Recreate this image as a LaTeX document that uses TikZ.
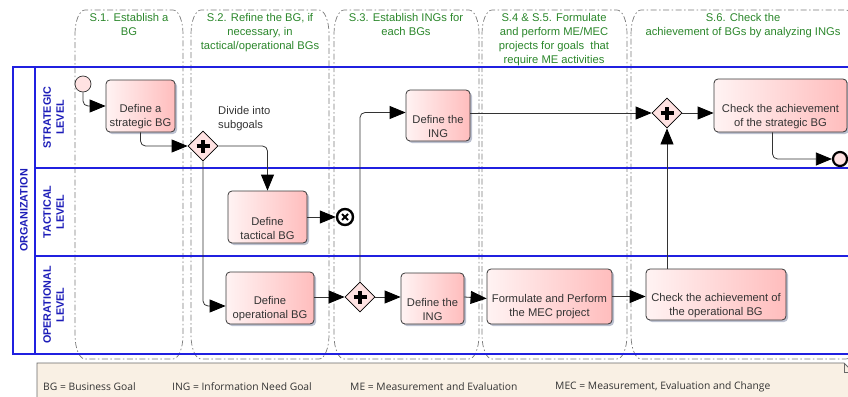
\documentclass[tikz,border=0pt]{standalone}
\usepackage{fontspec}
\setmainfont{Liberation Sans}
\newfontfamily\legendfont{Open Sans}
\usepackage{tikz}
\usetikzlibrary{arrows.meta,shapes.geometric,shadows}
\tikzset{every picture/.append style={font=\fontsize{11.2}{14}\selectfont}}
\definecolor{laneblue}{HTML}{2020E0}
\definecolor{lanetext}{HTML}{1C1CB8}
\definecolor{phasegreen}{HTML}{2A862A}
\definecolor{phasegray}{HTML}{7A7A7A}
\definecolor{taskleft}{HTML}{FFF3F3}
\definecolor{taskright}{HTML}{FFBDBD}
\definecolor{taskline}{HTML}{383838}
\definecolor{shadowgray}{HTML}{A0A6BC}
\definecolor{gatefill}{HTML}{FFE2E2}
\definecolor{legendfill}{HTML}{F9F0E4}
\definecolor{legendline}{HTML}{6A6A6A}
\tikzset{
  lane/.style={draw=laneblue,line width=1.1pt},
  lanelabel/.style={rotate=90,align=center,text=lanetext,inner sep=0pt,font=\fontsize{10.8}{13}\selectfont\bfseries},
  phase/.style={draw=phasegray,line width=0.7pt,dash pattern=on 6pt off 2.5pt on 1.5pt off 2.5pt},
  phasetitle/.style={text=phasegreen,align=center,anchor=north,inner sep=0pt},
  task/.style={draw=taskline,line width=0.8pt,rounded corners=4pt,left color=taskleft,right color=taskright,
    drop shadow={shadow xshift=2pt,shadow yshift=-2pt,fill=shadowgray,opacity=0.7},inner sep=0pt},
  tasktext/.style={align=center,text=black!80,inner sep=0pt,yshift=-11pt},
  gate/.style={diamond,draw=black,line width=0.8pt,fill=gatefill,minimum width=30pt,minimum height=30pt,inner sep=0pt},
  flow/.style={draw=black!80,line width=0.8pt,rounded corners=5pt,-{Triangle[length=16pt,width=13pt,color=black]}},
  legendtext/.style={anchor=west,inner sep=0pt,text=black!80,font=\legendfont\fontsize{10.3}{12}\selectfont},
}

\begin{document}
\begin{tikzpicture}[x=1pt,y=-1pt]
  \useasboundingbox (0,0) rectangle (848,396);
  \clip (0,0) rectangle (848,396);
  % phases
  \foreach \a/\b in {75/183,191/329,334/479,482/627,631/856} {
    \draw[phase] (\a,34) arc[start angle=180,end angle=270,x radius=10,y radius=24] -- (\b-10,10)
      arc[start angle=270,end angle=360,x radius=10,y radius=24] -- (\b,335)
      arc[start angle=0,end angle=90,x radius=10,y radius=24] -- (\a+10,359)
      arc[start angle=90,end angle=180,x radius=10,y radius=24] -- cycle;
  }
  \node[phasetitle] (t1) at (129,13) {S.1. Establish a\\BG};
  \node[phasetitle] (t2) at (260,13) {S.2. Refine the BG, if\\necessary, in\\tactical/operational BGs};
  \node[phasetitle] (t3) at (406,13) {S.3. Establish INGs for\\each BGs};
  \node[phasetitle] (t4) at (554,13) {S.4 \& S.5. Formulate\\and perform ME/MEC\\projects for goals\ \ that\\require ME activities};
  \node[phasetitle] (t6) at (743,13) {S.6. Check the\\achievement of BGs by analyzing INGs};
  % pool and lanes
  \draw[lane] (13,67) rectangle (870,354);
  \draw[lane] (35,67) -- (35,354);
  \draw[lane] (35,168) -- (870,168);
  \draw[lane] (35,256) -- (870,256);
  \node[lanelabel] (org) at (24,210.5) {ORGANIZATION};
  \node[lanelabel] (lstr) at (53.5,117.5) {STRATEGIC\\LEVEL};
  \node[lanelabel] (ltac) at (53.5,212) {TACTICAL\\LEVEL};
  \node[lanelabel] (lope) at (53.5,305) {OPERATIONAL\\LEVEL};
  % legend
  \draw[fill=legendfill,draw=legendline,line width=0.8pt] (37,363) -- (844,363) -- (853,372) -- (853,400) -- (37,400) -- cycle;
  \draw[legendline,line width=0.8pt] (844,363) -- (844,372) -- (853,372);
  \node[legendtext] (lg1) at (43,387) {BG = Business Goal};
  \node[legendtext] (lg2) at (172,387) {ING = Information Need Goal};
  \node[legendtext] (lg3) at (350,387) {ME = Measurement and Evaluation};
  \node[legendtext] (lg4) at (555,387) {MEC = Measurement, Evaluation and Change};
  % tasks
  \node[task,minimum width=69pt,minimum height=52pt,label={[tasktext]center:Define a\\strategic BG}] (strat) at (140.5,106) {};
  \node[task,minimum width=79pt,minimum height=52pt,label={[tasktext]center:Define\\tactical BG}] (tact) at (267.5,217) {};
  \node[task,minimum width=88pt,minimum height=52pt,label={[tasktext]center:Define\\operational BG}] (oper) at (270,298) {};
  \node[task,minimum width=64pt,minimum height=51pt,label={[tasktext]center:Define the\\ING}] (ingS) at (438,115.5) {};
  \node[task,minimum width=63pt,minimum height=51pt,label={[tasktext]center:Define the\\ING}] (ingO) at (432.5,298.5) {};
  \node[task,minimum width=125pt,minimum height=55pt,label={[tasktext,yshift=1pt]center:Formulate and Perform\\the MEC project}] (mec) at (549.5,296.5) {};
  \node[task,minimum width=140pt,minimum height=51pt,label={[tasktext]center:Check the achievement of\\the operational BG}] (chkO) at (716,294.5) {};
  \node[task,minimum width=133pt,minimum height=53pt,label={[tasktext]center:Check the achievement\\of the strategic BG}] (chkS) at (780.5,105.5) {};
  % gateways and events
  \node[gate] (g1) at (203,146) {};
  \node[gate] (g2) at (360,297) {};
  \node[gate] (g3) at (667,113) {};
  \foreach \g in {g1,g2,g3} {
    \draw[line width=3.5pt] ([xshift=-6.5pt]\g.center) -- ([xshift=6.5pt]\g.center);
    \draw[line width=3.5pt] ([yshift=-6.5pt]\g.center) -- ([yshift=6.5pt]\g.center);
  }
  \node[circle,draw=black!80,line width=0.7pt,fill=gatefill,minimum size=16pt,inner sep=0pt] (start) at (83,84) {};
  \node[circle,draw=black,line width=2.2pt,fill=gatefill,minimum size=14pt,inner sep=0pt] (endS) at (840,159) {};
  \node[circle,draw=black,line width=2.4pt,fill=white,minimum size=16pt,inner sep=0pt] (endT) at (345,217) {};
  \draw[line width=1.8pt] ([shift={(-3pt,-3pt)}]endT.center) -- ([shift={(3pt,3pt)}]endT.center);
  \draw[line width=1.8pt] ([shift={(-3pt,3pt)}]endT.center) -- ([shift={(3pt,-3pt)}]endT.center);
  \node[anchor=north west,align=left,inner sep=0pt,text=black!80] (div) at (218,106.5) {Divide into\\subgoals};
  % flows
  \draw[flow] (start.south) |- (strat.west);
  \draw[flow] (strat.south) |- (g1.west);
  \draw[flow] (g1.east) -| (tact.north);
  \draw[flow] (g1.south) |- ([yshift=-8pt]oper.west);
  \draw[flow] (tact.east) -- (endT.west);
  \draw[flow] (oper.east |- g2.west) -- (g2.west);
  \draw[flow] (g2.north) |- ([yshift=3pt]ingS.west);
  \draw[flow] (g2.east) -- (g2.east -| ingO.west);
  \draw[flow] (ingO.east |- g2.east) -- (ingO.east -| mec.west);
  \draw[flow] (mec.east) -- (mec.east -| chkO.west);
  \draw[flow] (ingS.east |- g3.west) -- (g3.west);
  \draw[flow] (g3 |- chkO.north) -- (g3.south);
  \draw[flow] (g3.east) -- (g3.east -| chkS.west);
  \draw[flow] ([xshift=-8pt]chkS.south) |- (endS.west);
\end{tikzpicture}
\end{document}
